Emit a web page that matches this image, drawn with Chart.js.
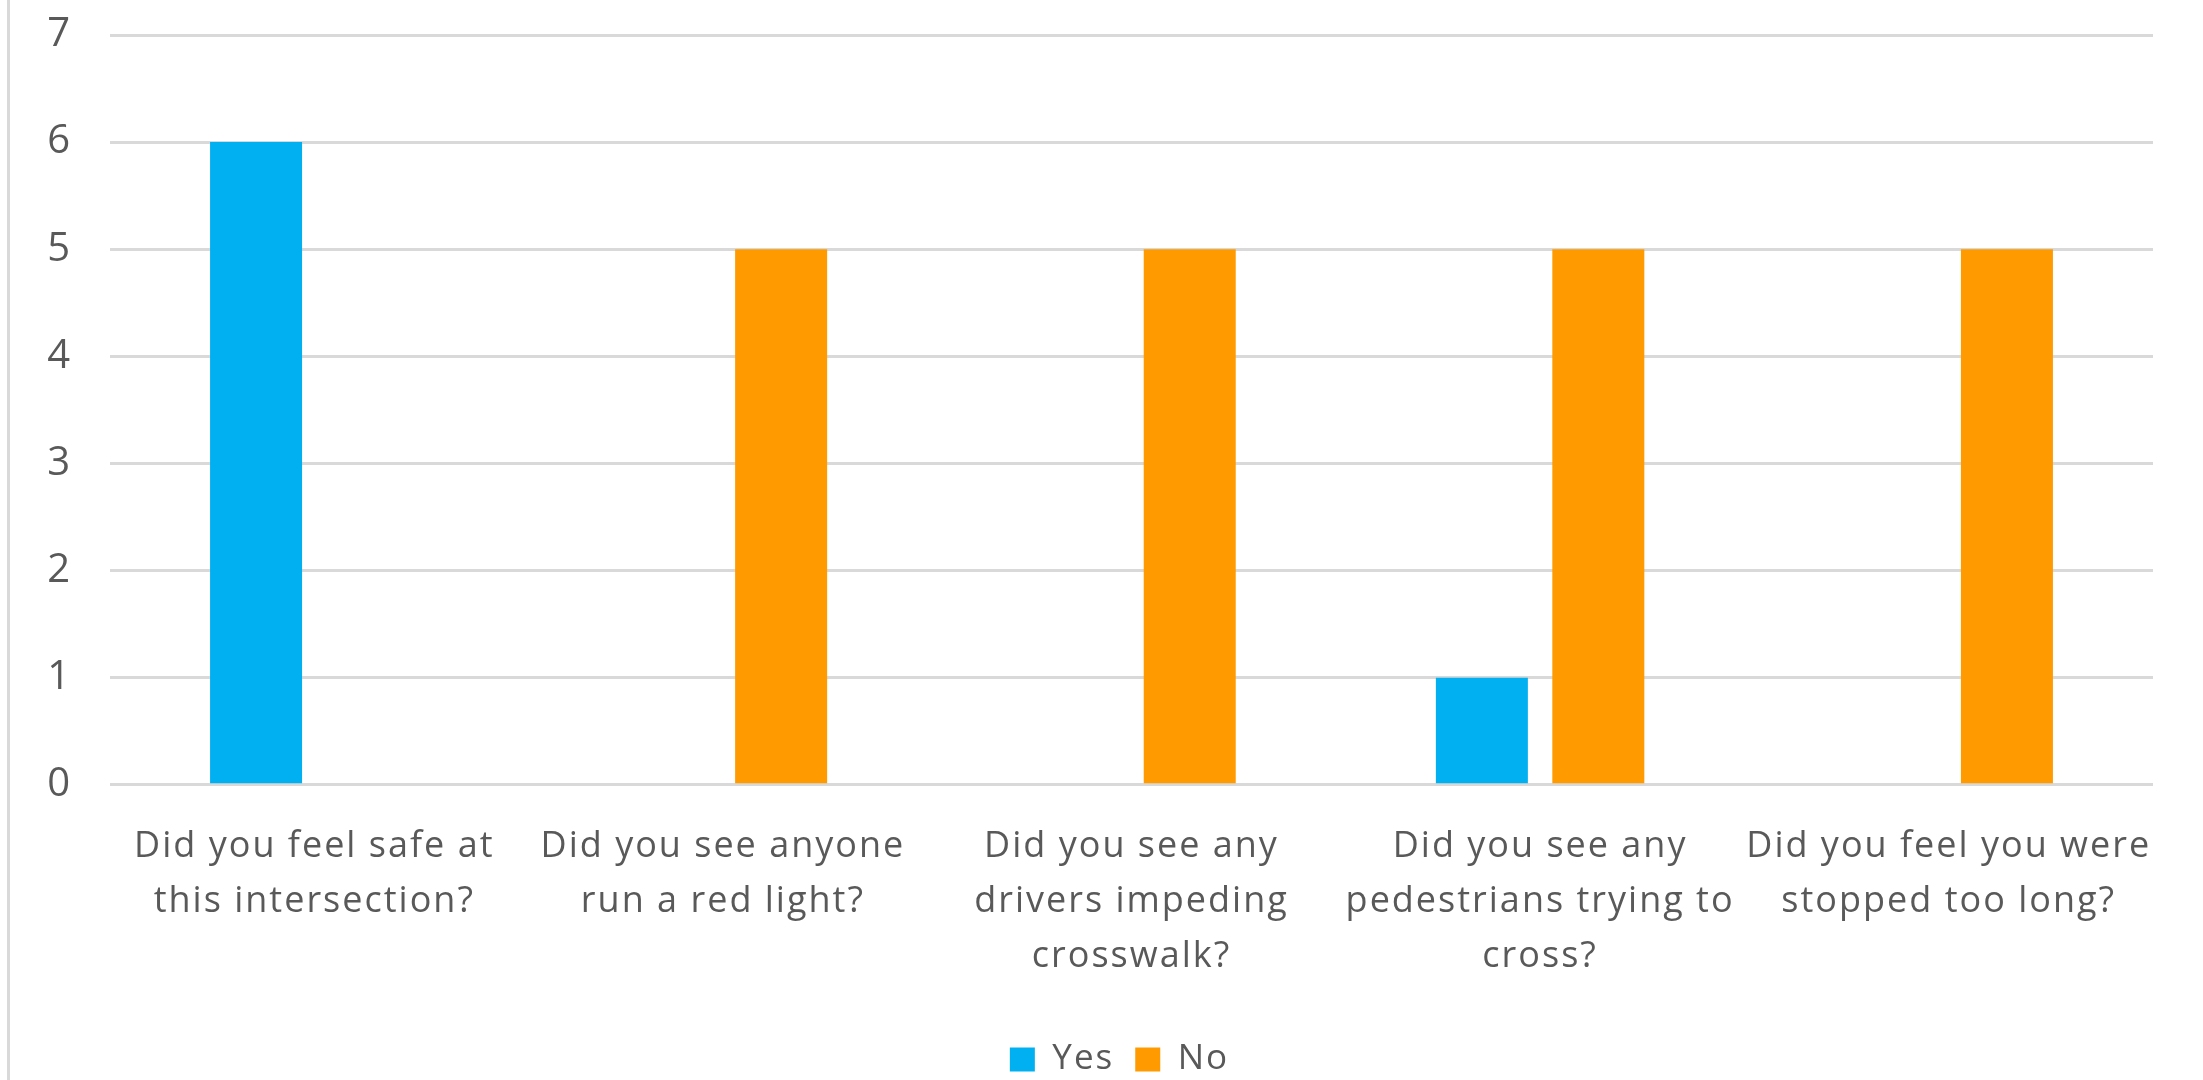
<!DOCTYPE html>
<html>
<head>
<meta charset="utf-8">
<script src="https://cdn.jsdelivr.net/npm/chart.js@4.4.1/dist/chart.umd.min.js"></script>
<style>
  html, body { margin: 0; padding: 0; background: #ffffff; }
  #wrap { position: relative; width: 2203px; height: 1080px; overflow: hidden; }
  #edge { position: absolute; left: 7px; top: 0; width: 3px; height: 1080px; background: #d9d9d9; }
  canvas { position: absolute; left: 0; top: 0; }
</style>
</head>
<body>
<div id="wrap">
  <div id="edge"></div>
  <canvas id="c" width="2203" height="1080"></canvas>
</div>
<script>
const categories = [
  ["Did you feel safe at", "this intersection?"],
  ["Did you see anyone", "run a red light?"],
  ["Did you see any", "drivers impeding", "crosswalk?"],
  ["Did you see any", "pedestrians trying to", "cross?"],
  ["Did you feel you were", "stopped too long?"]
];
const yesValues = [6, 0, 0, 1, 0];
const noValues = [0, 5, 5, 5, 5];
const seriesNames = ["Yes", "No"];
const yTicks = [0, 1, 2, 3, 4, 5, 6, 7];

const FONT = "'Open Sans', Lato, sans-serif";
const TEXT = "#595959";
const LEGEND_SHIFT = 43;

const textWiden = {
  id: 'textWiden',
  beforeUpdate(chart) { chart.ctx.letterSpacing = '2px'; },
  beforeDraw(chart) { chart.ctx.letterSpacing = '2px'; },
  afterLayout(chart) {
    if (chart.legend) { chart.legend.left += LEGEND_SHIFT; chart.legend.right += LEGEND_SHIFT; }
  }
};

new Chart(document.getElementById('c'), {
  type: 'bar',
  plugins: [textWiden],
  data: {
    labels: categories,
    datasets: [
      { label: seriesNames[0], data: yesValues, backgroundColor: '#00b0f0', borderWidth: 0,
        categoryPercentage: 0.57, barPercentage: 0.79 },
      { label: seriesNames[1], data: noValues, backgroundColor: '#ff9a00', borderWidth: 0,
        categoryPercentage: 0.57, barPercentage: 0.79 }
    ]
  },
  options: {
    responsive: false,
    devicePixelRatio: 1,
    animation: false,
    layout: { padding: { left: 0, right: 50, top: 35, bottom: -7 } },
    plugins: {
      tooltip: { enabled: false },
      title: { display: false },
      legend: {
        position: 'bottom',
        labels: {
          boxWidth: 25, boxHeight: 24, padding: 21,
          color: TEXT,
          font: { family: FONT, size: 35 }
        }
      }
    },
    scales: {
      x: {
        afterFit: (s) => { s.height += 11; },
        grid: { display: false },
        border: { display: false },
        ticks: {
          color: TEXT, autoSkip: false, maxRotation: 0, minRotation: 0,
          padding: 26,
          font: { family: FONT, size: 36, lineHeight: 1.53 }
        }
      },
      y: {
        min: yTicks[0], max: yTicks[yTicks.length - 1],
        afterFit: (s) => { s.width = 110; s.paddingTop = 0; s.paddingBottom = 0; },
        afterBuildTicks: (s) => { s.ticks = yTicks.map(v => ({ value: v })); },
        grid: { color: '#d9d9d9', lineWidth: 3, drawTicks: false },
        border: { display: false },
        ticks: {
          color: TEXT, padding: 38,
          font: { family: FONT, size: 40 }
        }
      }
    }
  }
});
</script>
</body>
</html>
